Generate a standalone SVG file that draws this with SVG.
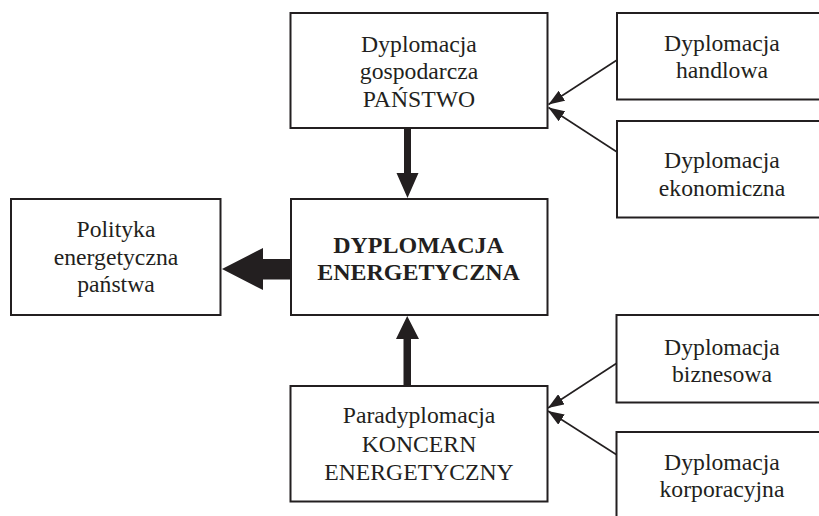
<svg xmlns="http://www.w3.org/2000/svg" width="819" height="516" viewBox="0 0 819 516">
<defs>
<style>
.box{fill:#fff;stroke:#231f20;stroke-width:2}
.t{font-family:"Liberation Serif","Times New Roman",serif;font-size:23.7px;fill:#231f20;text-anchor:middle}
.b{font-weight:bold;font-size:24px}
.ln{stroke:#231f20;stroke-width:1.6;fill:none}
.fat{fill:#231f20;stroke:none}
</style>
<marker id="arr" viewBox="0 0 16 12" refX="16" refY="6" markerWidth="16" markerHeight="12" markerUnits="userSpaceOnUse" orient="auto">
<path d="M0,0 L16,6 L0,12 z" fill="#231f20"/>
</marker>
</defs>
<rect width="819" height="516" fill="#fff"/>

<g id="connectors">
<polygon class="fat" points="404,128 411,128 411,173 418.5,173 407.5,198 396.5,173 404,173"/>
<polygon class="fat" points="403.5,386 411,386 411,339 419,339 407.2,316 396,339 403.5,339"/>
<polygon class="fat" points="291,259 263,259 263,248 222,269 263,290 263,279.5 291,279.5"/>
<line class="ln" x1="617" y1="60" x2="548.5" y2="104.5" marker-end="url(#arr)"/>
<line class="ln" x1="617" y1="152" x2="548.5" y2="107.5" marker-end="url(#arr)"/>
<line class="ln" x1="617" y1="363" x2="548" y2="408" marker-end="url(#arr)"/>
<line class="ln" x1="617" y1="455" x2="548" y2="411" marker-end="url(#arr)"/>
</g>

<g id="panstwo">
<rect class="box" x="290.5" y="13" width="257" height="115"/>
<text class="t" x="419" y="51.7">Dyplomacja</text>
<text class="t" x="419" y="79.3">gospodarcza</text>
<text class="t" x="419" y="106.8">PAŃSTWO</text>
</g>

<g id="handlowa">
<rect class="box" x="617" y="13" width="215" height="86.5"/>
<text class="t" x="722" y="50.7">Dyplomacja</text>
<text class="t" x="722" y="78.3">handlowa</text>
</g>

<g id="ekonomiczna">
<rect class="box" x="617" y="121" width="215" height="96.5"/>
<text class="t" x="722" y="168">Dyplomacja</text>
<text class="t" x="722" y="195.5">ekonomiczna</text>
</g>

<g id="polityka">
<rect class="box" x="11" y="199" width="209.5" height="116"/>
<text class="t" x="116" y="236.7">Polityka</text>
<text class="t" x="116" y="264.5">energetyczna</text>
<text class="t" x="116" y="291.7">państwa</text>
</g>

<g id="dyplomacja-energetyczna">
<rect class="box" x="291" y="199" width="256.5" height="116"/>
<text class="t b" x="418.5" y="253.3">DYPLOMACJA</text>
<text class="t b" x="418.5" y="280.3">ENERGETYCZNA</text>
</g>

<g id="biznesowa">
<rect class="box" x="616.5" y="315" width="215" height="87.5"/>
<text class="t" x="722" y="355">Dyplomacja</text>
<text class="t" x="722" y="381.7">biznesowa</text>
</g>

<g id="koncern">
<rect class="box" x="290.5" y="386" width="257" height="115.5"/>
<text class="t" x="419" y="423.3">Paradyplomacja</text>
<text class="t" x="419" y="451.7">KONCERN</text>
<text class="t" x="419" y="479.8">ENERGETYCZNY</text>
</g>

<g id="korporacyjna">
<rect class="box" x="616.5" y="432" width="215" height="100"/>
<text class="t" x="722" y="470">Dyplomacja</text>
<text class="t" x="722" y="496.7">korporacyjna</text>
</g>
</svg>
